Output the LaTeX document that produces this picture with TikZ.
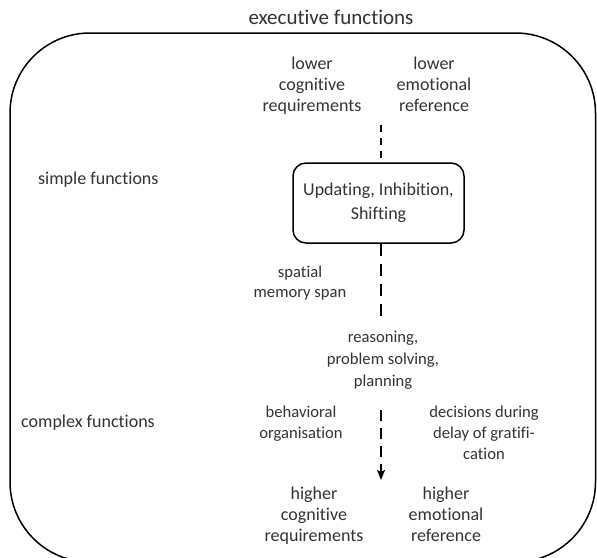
\documentclass[tikz,border=0pt]{standalone}
\usepackage{fontspec}
\setmainfont{Carlito}[Ligatures={NoCommon}]
\usetikzlibrary{arrows.meta}
\tikzset{
  big/.style={font={\fontsize{18}{21}\selectfont}, align=center, inner sep=0pt, text=black!80},
  small/.style={font={\fontsize{16.6}{21}\selectfont}, align=center, inner sep=0pt, text=black!80},
  label/.style={font={\fontsize{18}{21}\selectfont}, anchor=west, inner sep=0pt, text=black!80},
  corebox/.style={draw, line width=1.5pt, rounded corners=13pt, minimum width=171pt, minimum height=80pt,
    font={\fontsize{18}{24}\selectfont}, align=center, inner sep=0pt, text=black!80},
  dashA/.style={line width=1.5pt, dash pattern=on 7pt off 6pt},
  dashB/.style={line width=1.5pt, dash pattern=on 12pt off 8pt},
  dashC/.style={line width=1.5pt, dash pattern=on 11pt off 7pt}
}
\begin{document}
\begin{tikzpicture}[x=1pt,y=-1pt]
\useasboundingbox (0,0) rectangle (597,557);
\clip (0,0) rectangle (597,557);
\fill[white] (0,0) rectangle (597,557);
% outer frame
\draw[line width=1.5pt, rounded corners=80pt] (10,33) rectangle (595.5,562);
\node[font={\fontsize{21}{24}\selectfont}, inner sep=0pt, text=black!80] (title) at (331,17) {executive functions};
% texts
\node[big] (lowcog) at (312,86) {\strut lower\\\strut cognitive\\\strut requirements};
\node[big] (lowemo) at (434,86) {\strut lower\\\strut emotional\\\strut reference};
\node[label] (simple) at (38,180) {simple functions};
\node[corebox] (core) at (378.5,203) {\strut Updating, Inhibition,\\\strut Shifting};
\node[small, font={\fontsize{16.6}{20}\selectfont}] (spatial) at (300,283) {\strut spatial\\\strut memory span};
\node[small, font={\fontsize{16.6}{22}\selectfont}] (reason) at (383,360) {\strut reasoning,\\\strut problem solving,\\\strut planning};
\node[label] (complex) at (21,423) {complex functions};
\node[small] (behav) at (301,423.5) {\strut behavioral\\\strut organisation};
\node[small] (decis) at (484,434) {\strut decisions during\\\strut delay of gratifi-\\\strut cation};
\node[big] (highcog) at (314,516) {\strut higher\\\strut cognitive\\\strut requirements};
\node[big] (highemo) at (446,516) {\strut higher\\\strut emotional\\\strut reference};
% connectors
\coordinate (ctop) at (381,125);
\coordinate (cmid) at (381,317);
\coordinate (clow) at (381,410);
\coordinate (ctip) at (381,480);
\draw[dashA] (ctop) -- (ctop |- core.north);
\draw[dashB] (cmid |- core.south) -- (cmid);
\draw[dashC, -{Stealth[length=10pt,width=8pt,inset=2pt]}] (clow) -- (ctip);
\end{tikzpicture}
\end{document}
